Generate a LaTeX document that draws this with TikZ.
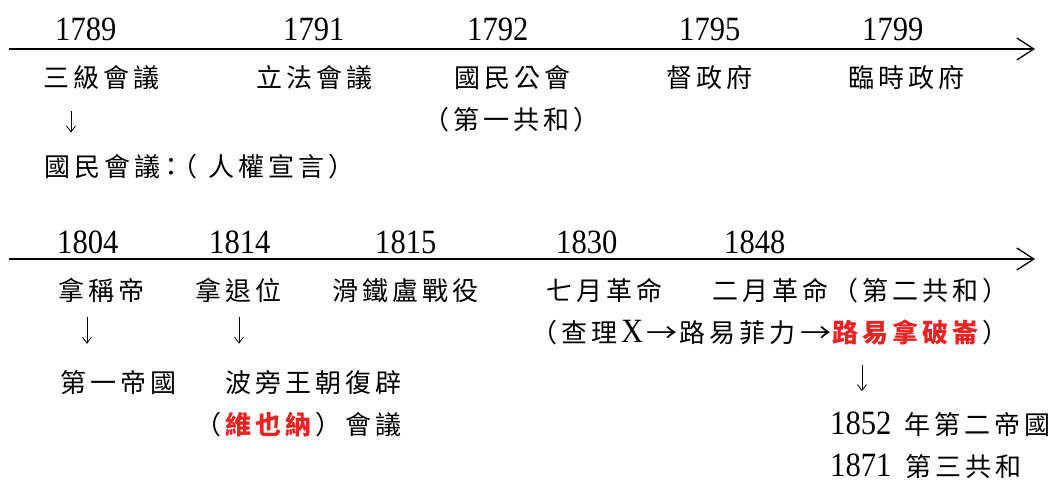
\documentclass[tikz,border=0pt]{standalone}
\usepackage{fontspec}
\usepackage{graphicx}
\usetikzlibrary{arrows.meta}
\newfontfamily\cjk{Noto Sans CJK TC}
\newfontfamily\numfam{Liberation Serif}[FakeStretch=0.9]
\newcommand\cjkfont{\cjk\fontsize{26pt}{30pt}\selectfont}
\newcommand\numfont{\numfam\fontsize{34pt}{38pt}\selectfont}
\newcommand\rarr{\hspace{1pt}\scalebox{1.2}[1]{\cjk\fontsize{26pt}{30pt}\selectfont →}}
\definecolor{hl}{RGB}{235,35,35}
\makeatletter
\newlength\cellw \setlength\cellw{30pt}
\newcommand\grid[1]{\grid@loop#1\grid@end}
\def\grid@end{\grid@end}
\def\grid@loop#1{\ifx#1\grid@end\else\makebox[\cellw][l]{#1}\expandafter\grid@loop\fi}
\makeatother
\tikzset{
  lbl/.style={anchor=base west, inner sep=0pt, font=\cjkfont},
  yr/.style={anchor=base west, inner sep=0pt, font=\numfont},
  axis/.style={line width=1.3pt, -{Straight Barb[length=17pt,width=22pt,line width=1.3pt]}},
  down/.style={line width=0.8pt, -{Straight Barb[length=6pt,width=9pt]}}
}
\begin{document}
\begin{tikzpicture}[x=1pt,y=-1pt]
\fill[white] (0,0) rectangle (1049,483);
\useasboundingbox (0,0) rectangle (1049,483);
% ---- first timeline ----
\coordinate (t1s) at (9,49);
\coordinate (t1e) at (1035,49);
\draw[axis] (t1s) -- (t1e);
\node[yr] (y1789) at (55,40) {1789};
\node[yr] (y1791) at (283,40) {1791};
\node[yr] (y1792) at (467,40) {1792};
\node[yr] (y1795) at (679,40) {1795};
\node[yr] (y1799) at (862,40) {1799};
\node[lbl] (e1) at (43,87) {\grid{三級會議}};
\node[lbl] (e2) at (256,87) {\grid{立法會議}};
\node[lbl] (e3) at (454,87) {\grid{國民公會}};
\node[lbl] (e4) at (666,87) {\grid{督政府}};
\node[lbl] (e5) at (848,87) {\grid{臨時政府}};
\node[lbl] (e3b) at (423,129) {\grid{（第一共和）}};
\node[lbl] (n1) at (44,176) {\grid{國民會議}\hspace{-6pt}\makebox[13pt][l]{：}\makebox[37pt][l]{（}\grid{人權宣言）}};
\draw[down, shorten <=22pt, shorten >=21pt] ([xshift=28pt]e1.south west) -- ([xshift=28pt]e1.south west |- n1.north);
% ---- second timeline ----
\coordinate (t2s) at (9,259);
\coordinate (t2e) at (1035,259);
\draw[axis] (t2s) -- (t2e);
\node[yr] (y1804) at (57,253) {1804};
\node[yr] (y1814) at (209,253) {1814};
\node[yr] (y1815) at (375,253) {1815};
\node[yr] (y1830) at (556,253) {1830};
\node[yr] (y1848) at (724,253) {1848};
\node[lbl] (f1) at (58,300) {\grid{拿稱帝}};
\node[lbl] (f2) at (195,300) {\grid{拿退位}};
\node[lbl] (f3) at (332,300) {\grid{滑鐵盧戰役}};
\node[lbl] (f4) at (546,300) {\grid{七月革命}};
\node[lbl] (f5) at (712,300) {\grid{二月革命（第二共和）}};
\node[lbl] (f5b) at (531,342) {\grid{（查理}\makebox[24pt][l]{\numfont X}\makebox[34pt][l]{\rarr}\grid{路易菲力}\makebox[33pt][l]{\rarr}{\color{hl}\bfseries\grid{路易拿破崙}}\grid{）}};
\node[lbl] (g1) at (60,392) {\grid{第一帝國}};
\node[lbl] (g2) at (225,392) {\grid{波旁王朝復辟}};
\node[lbl] (g3) at (195,434) {\grid{（}{\color{hl}\bfseries\grid{維也納}}\grid{）會議}};
\node[lbl] (h1) at (830,434) {{\numfont 1852}\hspace{13pt}\grid{年第二帝國}};
\node[lbl] (h2) at (830,476) {{\numfont 1871}\hspace{14pt}\grid{第三共和}};
\draw[down, shorten <=15pt, shorten >=26pt] ([xshift=29pt]f1.south west) -- ([xshift=29pt]f1.south west |- g1.north);
\draw[down, shorten <=15pt, shorten >=26pt] ([xshift=44pt]f2.south west) -- ([xshift=44pt]f2.south west |- g2.north);
\draw[down, shorten <=20pt, shorten >=20pt] ([xshift=331pt]f5b.south west) -- ([xshift=331pt]f5b.south west |- h1.north);
\end{tikzpicture}
\end{document}
